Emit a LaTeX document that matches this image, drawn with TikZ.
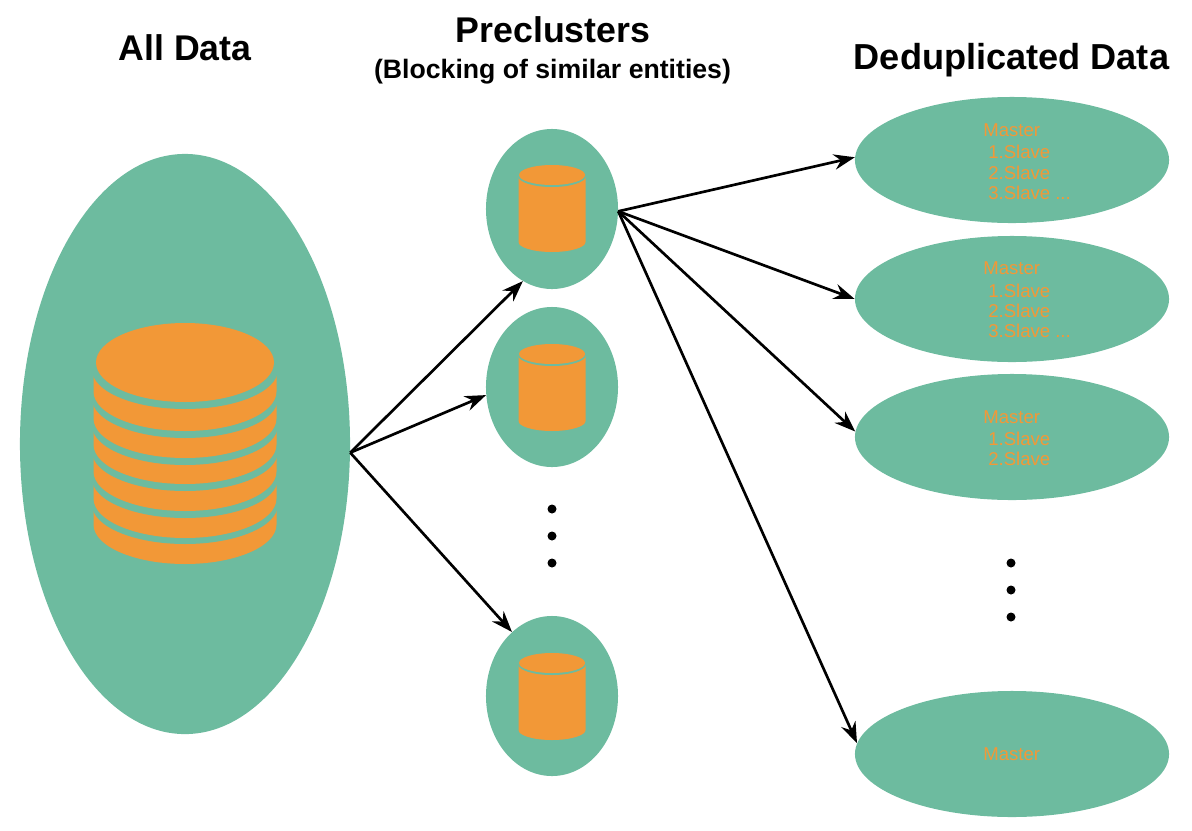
\documentclass[tikz,border=0pt]{standalone}
\usepackage{fontspec}
\setmainfont{Liberation Sans}
\usetikzlibrary{shapes.geometric,arrows.meta}
\definecolor{blobgreen}{HTML}{6DBB9F}
\definecolor{dborange}{HTML}{F29837}
\tikzset{
  blob/.style={ellipse,fill=blobgreen,inner sep=0pt},
  flow/.style={-{Stealth[length=15pt,width=11pt,inset=5pt]},line width=1.9pt},
  heading/.style={font=\bfseries\fontsize{25.4}{28}\selectfont},
  recline/.style={anchor=west,text=dborange,inner sep=0pt,font=\fontsize{13.2}{15}\selectfont},
  gapdot/.style={circle,fill=black,minimum size=6.4pt,inner sep=0pt}
}
\newcommand{\smalldb}[2]{%
  \fill[dborange] (#1-33.5,#2) -- (#1-33.5,#2+67) arc[start angle=180,end angle=360,x radius=33.5,y radius=-10]
        -- (#1+33.5,#2) -- cycle;
  \fill[blobgreen] (#1,#2+1) ellipse[x radius=34,y radius=11];
  \fill[dborange] (#1,#2) ellipse[x radius=33,y radius=10];
}
\newcommand{\reclabel}[4]{%
  \node[recline] (#1) at (#2,#3) {#4};
}
\begin{document}
\begin{tikzpicture}[x=0.025cm,y=-0.025cm]
  \useasboundingbox (0,0) rectangle (1192,830);
  \node[blob,minimum width=8.25cm,minimum height=14.5cm] (alldata) at (185,444) {};
  \node[blob,minimum width=3.3cm,minimum height=4cm] (pre1) at (552,209) {};
  \node[blob,minimum width=3.3cm,minimum height=4cm] (pre2) at (552,387) {};
  \node[blob,minimum width=3.3cm,minimum height=4cm] (pre3) at (552,696) {};
  \node[blob,minimum width=7.85cm,minimum height=3.15cm] (dedup1) at (1012,160) {};
  \node[blob,minimum width=7.85cm,minimum height=3.15cm] (dedup2) at (1012,299) {};
  \node[blob,minimum width=7.85cm,minimum height=3.15cm] (dedup3) at (1012,437) {};
  \node[blob,minimum width=7.85cm,minimum height=3.15cm] (dedup4) at (1012,754) {};

  \foreach \b/\g in {564/504.5,538/478.5,511/451.5,484/425.5,458/398.5,431/369.5}{
    \fill[dborange] (93.5,\g) -- (93.5,\b-39.5) arc[start angle=180,end angle=360,x radius=91.5,y radius=-39.5]
        -- (276.5,\g) -- cycle;
    \fill[blobgreen] (185,\g) ellipse[x radius=93,y radius=39.5];
  }
  \fill[dborange] (185,362.5) ellipse[x radius=89,y radius=39.5];

  \smalldb{552}{175}
  \smalldb{552}{354}
  \smalldb{552}{663}

  \node[heading] (titleall) at (185,48) {All Data};
  \node[heading] (titlepre) at (553,30) {Preclusters};
  \node[font=\bfseries\fontsize{18.95}{22}\selectfont] (subpre) at (552.5,72) {(Blocking of similar entities)};
  \node[heading,font=\bfseries\fontsize{25.7}{28}\selectfont] (titlededup) at (1011.5,60) {Deduplicated Data};

  \reclabel{m1}{983}{130}{Master}
  \reclabel{s11}{988}{152}{1.Slave}
  \reclabel{s12}{988}{173}{2.Slave}
  \reclabel{s13}{988}{193}{3.Slave ...}
  \reclabel{m2}{983}{268}{Master}
  \reclabel{s21}{988}{291}{1.Slave}
  \reclabel{s22}{988}{311}{2.Slave}
  \reclabel{s23}{988}{331}{3.Slave ...}
  \reclabel{m3}{983}{417}{Master}
  \reclabel{s31}{988}{439}{1.Slave}
  \reclabel{s32}{988}{459}{2.Slave}
  \reclabel{m4}{983}{754}{Master}

  \foreach \y [count=\i] in {509,536,563}{
    \node[gapdot] (predot\i) at (552,\y) {};
  }
  \foreach \y [count=\i] in {563,590,617}{
    \node[gapdot] (dedupdot\i) at (1011,\y) {};
  }

  \draw[flow] (alldata.-3) -- (pre1.248);
  \draw[flow] (alldata.-3) -- (pre2.187);
  \draw[flow] (alldata.-3) -- (pre3.122);
  \draw[flow] (pre1.-2) -- (dedup1.179);
  \draw[flow] (pre1.-2) -- (dedup2.180);
  \draw[flow] (pre1.-2) -- (dedup3.178);
  \draw[flow] (pre1.-2) -- (dedup4.176);
\end{tikzpicture}
\end{document}
